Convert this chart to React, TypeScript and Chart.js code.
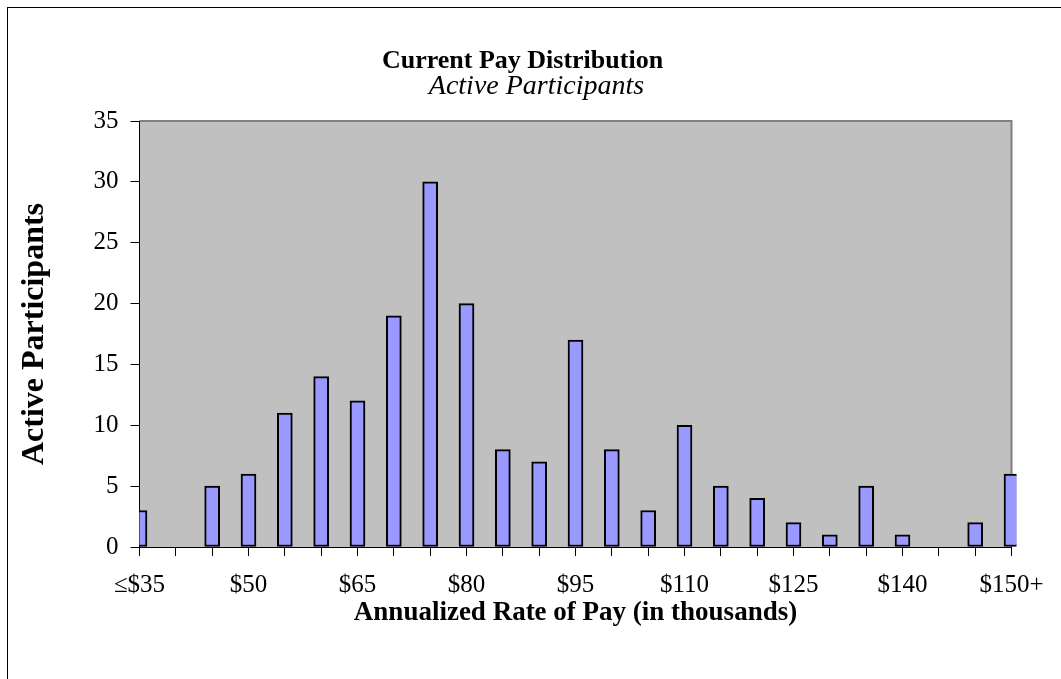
import React, { useEffect, useRef } from "react";
import { Chart, registerables } from "chart.js";

Chart.register(...registerables);

const categories = [
  "≤$35", "$40", "$45", "$50", "$55", "$60", "$65", "$70", "$75", "$80",
  "$85", "$90", "$95", "$100", "$105", "$110", "$115", "$120", "$125", "$130",
  "$135", "$140", "$145", "$150", "$150+",
];
const participants = [3, 0, 5, 6, 11, 14, 12, 19, 30, 20, 8, 7, 17, 8, 3, 10, 5, 4, 2, 1, 5, 1, 0, 2, 6];
const yMin = 0;
const yMax = 35;
const yStep = 5;
const labelEvery = 3;

const titleText = "Current Pay Distribution";
const subtitleText = "Active Participants";
const xTitleText = "Annualized Rate of Pay (in thousands)";
const yTitleText = "Active Participants";

const FONT = "'Liberation Serif', 'Times New Roman', serif";

const decor = {
  id: "decor",
  beforeDraw(chart: any) {
    const { ctx, chartArea: a } = chart;
    ctx.save();
    ctx.fillStyle = "#ffffff";
    ctx.fillRect(0, 0, chart.width, chart.height);
    ctx.strokeStyle = "#000000";
    ctx.lineWidth = 1;
    ctx.strokeRect(7.5, 7.5, chart.width + 40, chart.height + 40);
    ctx.fillStyle = "#C0C0C0";
    ctx.fillRect(a.left, a.top, a.right - a.left, a.bottom - a.top);
    ctx.strokeStyle = "#808080";
    ctx.lineWidth = 2;
    ctx.beginPath();
    ctx.moveTo(a.left, a.top);
    ctx.lineTo(a.right, a.top);
    ctx.lineTo(a.right, a.bottom);
    ctx.stroke();
    const cx = chart.width / 2;
    ctx.fillStyle = "#000000";
    ctx.textAlign = "center";
    ctx.textBaseline = "middle";
    ctx.font = `bold 26px ${FONT}`;
    ctx.fillText(titleText, cx - 8, 61);
    ctx.font = `italic 28px ${FONT}`;
    ctx.fillText(subtitleText, cx + 6, 87);
    ctx.restore();
  },
};

export default function App() {
  const ref = useRef<HTMLCanvasElement | null>(null);

  useEffect(() => {
    if (!ref.current) return;
    const chart = new Chart(ref.current, {
      type: "bar",
      data: {
        labels: categories,
        datasets: [
          {
            data: participants,
            backgroundColor: "#9999FF",
            borderColor: "#000000",
            borderWidth: 2,
            borderSkipped: false,
            barThickness: 15,
            clip: { left: 0, right: 5, top: false, bottom: false } as any,
          },
        ],
      },
      options: {
        responsive: false,
        animation: false,
        devicePixelRatio: 1,
        layout: { padding: { left: 0, right: 49.5, top: 121, bottom: 0 } },
        plugins: {
          legend: { display: false },
          tooltip: { enabled: false },
          title: { display: false },
        },
        scales: {
          x: {
            type: "category",
            offset: false,
            grid: {
              offset: false,
              drawOnChartArea: false,
              drawTicks: true,
              tickLength: 9,
              color: "#000000",
              lineWidth: 1,
            },
            border: { display: true, color: "#000000", width: 1 },
            ticks: {
              autoSkip: false,
              maxRotation: 0,
              minRotation: 0,
              padding: 14,
              color: "#000000",
              font: { family: FONT, size: 25 },
              callback: (_v: any, i: number) => (i % labelEvery === 0 ? categories[i] : ""),
            },
            title: {
              display: true,
              text: xTitleText,
              color: "#000000",
              font: { family: FONT, size: 27, weight: "bold", lineHeight: 1 },
              padding: { top: 0, bottom: 52 },
            },
            afterFit: (s: any) => {
              s.height = 132;
            },
          },
          y: {
            min: yMin,
            max: yMax,
            grid: {
              drawOnChartArea: false,
              drawTicks: true,
              tickLength: 9,
              color: "#000000",
              lineWidth: 1,
            },
            border: { display: true, color: "#000000", width: 1 },
            ticks: {
              stepSize: yStep,
              padding: 12,
              color: "#000000",
              font: { family: FONT, size: 25 },
            },
            title: {
              display: true,
              text: yTitleText,
              color: "#000000",
              font: { family: FONT, size: 32, weight: "bold", lineHeight: 1 },
              padding: { top: 19, bottom: 0 },
            },
            afterFit: (s: any) => {
              s.width = 139.5;
            },
          },
        },
      },
      plugins: [decor],
    });
    return () => chart.destroy();
  }, []);

  return (
    <div style={{ position: "fixed", left: 0, top: 0, width: 1061, height: 679, background: "#fff" }}>
      <canvas ref={ref} width={1061} height={679} style={{ display: "block" }} />
    </div>
  );
}
